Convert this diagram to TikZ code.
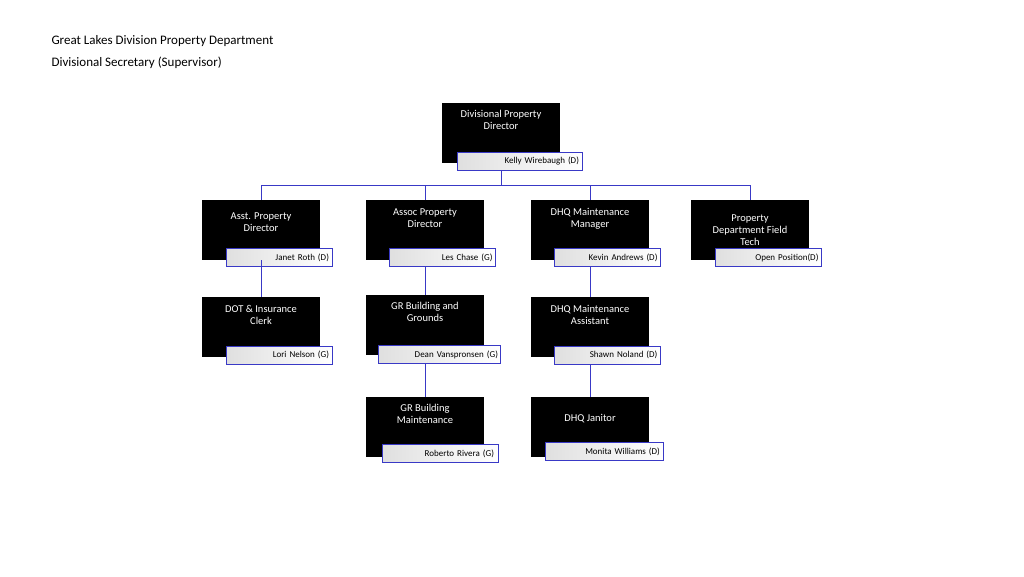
\documentclass[tikz,border=0pt]{standalone}
\usepackage{fontspec}
\setmainfont{Carlito}
\usetikzlibrary{positioning}
\tikzset{
  role/.style={fill=black,text=white,minimum width=118pt,minimum height=60pt,align=center,font=\fontsize{10.5}{12}\selectfont,inner sep=0pt},
  who/.style={draw=blue!55!gray,left color=gray!25,right color=white,minimum width=106pt,minimum height=18pt,align=right,font=\fontsize{9}{10}\selectfont,inner sep=0pt,text width=100pt},
  link/.style={draw=blue!55!gray,line width=0.8pt}
}
\begin{document}
\begin{tikzpicture}[x=1pt,y=-1pt]
\useasboundingbox (0,0) rectangle (1024,576);
\node[anchor=west,font=\fontsize{13}{15}\selectfont] (t1) at (48,41) {Great Lakes Division Property Department};
\node[anchor=west,font=\fontsize{13}{15}\selectfont] (t2) at (48,63) {Divisional Secretary (Supervisor)};

% top
\node[role] (dir) at (501,133) {Divisional Property\\Director\\[14pt]};
\node[who,minimum width=125pt,text width=119pt] (dirn) at (519.5,161) {Kelly Wirebaugh (D)};

% row 1
\node[role] (asst) at (261,230) {Asst. Property\\Director\\[4pt]};
\node[who] (asstn) at (279,257.5) {Janet Roth (D)};
\node[role] (assoc) at (425,230) {Assoc Property\\Director\\[12pt]};
\node[who] (assocn) at (442.5,257.5) {Les Chase (G)};
\node[role] (dhqm) at (590,230) {DHQ Maintenance\\Manager\\[12pt]};
\node[who] (dhqmn) at (607.5,257.5) {Kevin Andrews (D)};
\node[role] (tech) at (750,230) {Property\\Department Field\\Tech};
\node[who] (techn) at (768.5,257.5) {Open Position(D)};

% row 2
\node[role] (dot) at (261,327) {DOT \& Insurance\\Clerk\\[12pt]};
\node[who] (dotn) at (279,355) {Lori Nelson (G)};
\node[role] (grbg) at (425,325) {GR Building and\\Grounds\\[14pt]};
\node[who,minimum width=122pt,text width=118pt] (grbgn) at (439,354.5) {Dean Vanspronsen (G)};
\node[role] (dhqa) at (590,327) {DHQ Maintenance\\Assistant\\[12pt]};
\node[who] (dhqan) at (607.5,355) {Shawn Noland (D)};

% row 3
\node[role] (grbm) at (425,427) {GR Building\\Maintenance\\[14pt]};
\node[who,minimum width=116pt,text width=108pt] (grbmn) at (440,453.5) {Roberto Rivera (G)};
\node[role] (jan) at (590,427) {DHQ Janitor\\[6pt]};
\node[who,minimum width=118pt,text width=112pt] (jann) at (604,451.5) {Monita Williams (D)};

\coordinate (bus) at (501,185);
\draw[link] (dirn.south -| dir) -- (bus);
\foreach \n in {asst,assoc,dhqm,tech}
  \draw[link] (bus) -| (\n.north);
\draw[link] (asst.south) -- (dot.north);
\draw[link] (assocn.south -| assoc) -- (grbg.north);
\draw[link] (grbgn.south -| grbg) -- (grbm.north);
\draw[link] (dhqmn.south -| dhqm) -- (dhqa.north);
\draw[link] (dhqan.south -| dhqa) -- (jan.north);
\end{tikzpicture}
\end{document}
